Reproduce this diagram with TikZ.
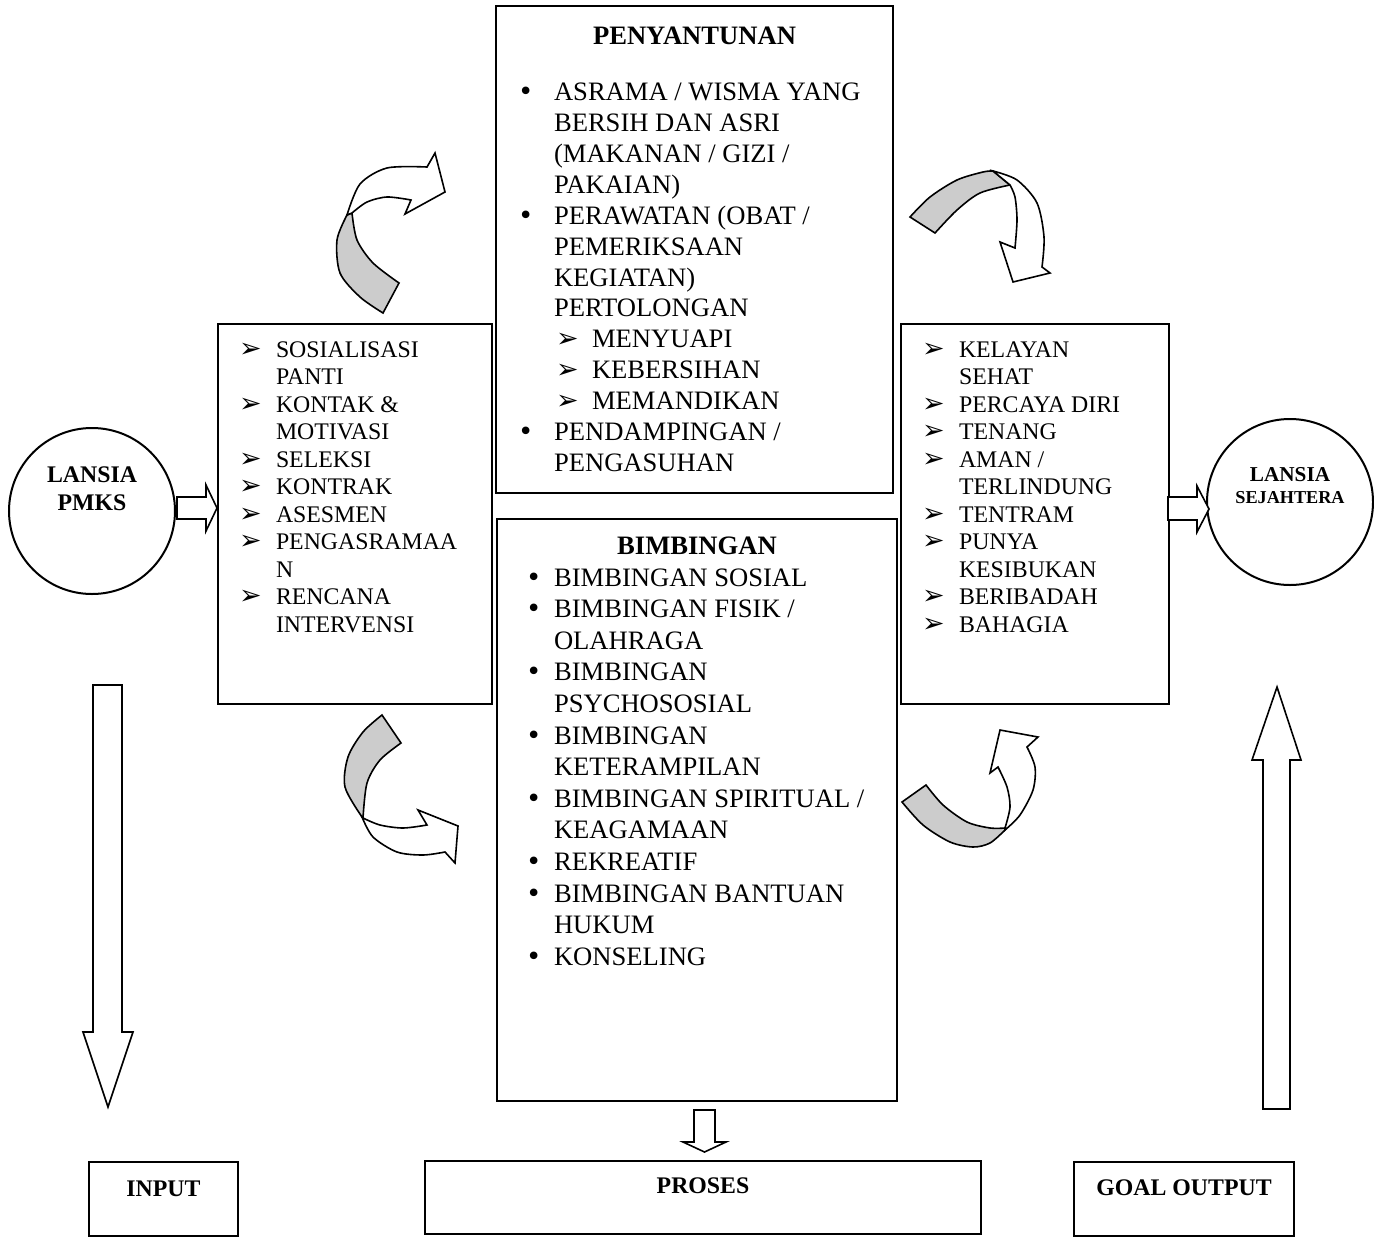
\documentclass[tikz,border=0pt]{standalone}
\usepackage{fontspec}
\setmainfont{Liberation Serif}
\newfontfamily\simbolfont{DejaVu Sans}

\newcommand{\panah}{{\simbolfont\fontsize{13.5}{10}\selectfont ➢}}
\newcommand{\titik}{{\simbolfont\fontsize{13}{10}\selectfont •}}
\newcommand{\poin}[4]{\leavevmode\rlap{\hspace*{#1}#3}\hspace*{#2}#4\par}
\newcommand{\lanjut}[2]{\leavevmode\hspace*{#1}#2\par}
\newcommand{\atas}[1]{\leavevmode\rule{0pt}{#1}}
\newcommand{\tandapanah}[1]{\poin{10.5pt}{29pt}{\panah}{#1}}
\newcommand{\sambung}[1]{\lanjut{29pt}{#1}}
\newcommand{\kecil}{\fontsize{11.9}{13.75}\selectfont}

\begin{document}
\begin{tikzpicture}[
                    x=0.5pt, y=-0.5pt,
                    kotak/.style={
                        draw,
                        line width=1pt,
                        inner sep=0pt,
                        anchor=north west
                    },
                    lingkar/.style={
                        draw,
                        circle,
                        line width=1pt,
                        minimum size=83pt,
                        inner sep=0pt
                    },
                    judul/.style={
                        font=\fontsize{11.9}{14}\selectfont\bfseries,
                        align=center,
                        inner sep=0pt
                    },
                    panahblok/.style={draw, line width=0.8pt, fill=white},
                    pita/.style={draw, line width=0.8pt, fill=black!20}
                ]
                    \useasboundingbox (0,0) rectangle (1374,1236);

                    % Lingkaran
                    \node[lingkar] (pmks) at (92,511) {};
                    \node[judul] (pmks-teks) at ([yshift=11pt]pmks.center) {LANSIA\\PMKS};
                    \node[lingkar] (sejahtera) at (1290,502) {};
                    \node[judul, font=\fontsize{10.6}{11}\selectfont\bfseries] (sejahtera-teks)
                        at ([yshift=8pt]sejahtera.center) {LANSIA\\{\fontsize{9.1}{11}\selectfont SEJAHTERA}};

                    % Kotak input
                    \node[kotak] (awal) at (217,323) {\parbox[b][190pt][t]{137pt}{\kecil
                        \atas{16.5pt}\tandapanah{SOSIALISASI}
                        \sambung{PANTI}
                        \tandapanah{KONTAK \&}
                        \sambung{MOTIVASI}
                        \tandapanah{SELEKSI}
                        \tandapanah{KONTRAK}
                        \tandapanah{ASESMEN}
                        \tandapanah{PENGASRAMAA}
                        \sambung{N}
                        \tandapanah{RENCANA}
                        \sambung{INTERVENSI}}};

                    % Kotak proses
                    \node[kotak] (penyantunan) at (495,5) {\parbox[b][243.5pt][t]{198.5pt}{\fontsize{13.3}{15.46}\selectfont
                        \centering\atas{19pt}\textbf{PENYANTUNAN}\par
                        \raggedright\vspace{12.8pt}
                        \poin{11pt}{29pt}{\titik}{ASRAMA / WISMA YANG}
                        \lanjut{29pt}{BERSIH DAN ASRI}
                        \lanjut{29pt}{(MAKANAN / GIZI /}
                        \lanjut{29pt}{PAKAIAN)}
                        \poin{11pt}{29pt}{\titik}{PERAWATAN (OBAT /}
                        \lanjut{29pt}{PEMERIKSAAN}
                        \lanjut{29pt}{KEGIATAN)}
                        \lanjut{29pt}{PERTOLONGAN}
                        \poin{30pt}{48pt}{\panah}{MENYUAPI}
                        \poin{30pt}{48pt}{\panah}{KEBERSIHAN}
                        \poin{30pt}{48pt}{\panah}{MEMANDIKAN}
                        \poin{11pt}{29pt}{\titik}{PENDAMPINGAN /}
                        \lanjut{29pt}{PENGASUHAN}}};
                    \node[kotak] (bimbingan) at (496,518) {\parbox[b][291pt][t]{200pt}{\fontsize{13.3}{15.8}\selectfont
                        \centering\atas{17.75pt}\textbf{BIMBINGAN}\par
                        \raggedright
                        \poin{14.5pt}{28.5pt}{\titik}{BIMBINGAN SOSIAL}
                        \poin{14.5pt}{28.5pt}{\titik}{BIMBINGAN FISIK /}
                        \lanjut{28.5pt}{OLAHRAGA}
                        \poin{14.5pt}{28.5pt}{\titik}{BIMBINGAN}
                        \lanjut{28.5pt}{PSYCHOSOSIAL}
                        \poin{14.5pt}{28.5pt}{\titik}{BIMBINGAN}
                        \lanjut{28.5pt}{KETERAMPILAN}
                        \poin{14.5pt}{28.5pt}{\titik}{BIMBINGAN SPIRITUAL /}
                        \lanjut{28.5pt}{KEAGAMAAN}
                        \poin{14.5pt}{28.5pt}{\titik}{REKREATIF}
                        \poin{14.5pt}{28.5pt}{\titik}{BIMBINGAN BANTUAN}
                        \lanjut{28.5pt}{HUKUM}
                        \poin{14.5pt}{28.5pt}{\titik}{KONSELING}}};

                    % Kotak hasil
                    \node[kotak] (hasil) at (900,323) {\parbox[b][190pt][t]{134pt}{\kecil
                        \atas{16.5pt}\tandapanah{KELAYAN}
                        \sambung{SEHAT}
                        \tandapanah{PERCAYA DIRI}
                        \tandapanah{TENANG}
                        \tandapanah{AMAN /}
                        \sambung{TERLINDUNG}
                        \tandapanah{TENTRAM}
                        \tandapanah{PUNYA}
                        \sambung{KESIBUKAN}
                        \tandapanah{BERIBADAH}
                        \tandapanah{BAHAGIA}}};

                    % Kotak bawah
                    \node[kotak] (input) at (88,1161) {\parbox[b][37pt][t]{74.5pt}{\centering\kecil
                        \atas{17pt}\textbf{INPUT}}};
                    \node[kotak] (proses) at (424,1160) {\parbox[b][36.5pt][t]{278pt}{\centering\kecil
                        \atas{16pt}\textbf{PROSES}}};
                    \node[kotak] (goal) at (1073,1161) {\parbox[b][37pt][t]{110pt}{\centering\kecil
                        \atas{16.5pt}\textbf{GOAL OUTPUT}}};

                    % Panah lurus
                    \draw[panahblok] (177,497) -- (206,497) -- (206,485) -- (217,508)
                        -- (206,531) -- (206,519) -- (177,519) -- cycle;
                    \draw[panahblok] (1168,497) -- (1197,497) -- (1197,486) -- (1209,509)
                        -- (1197,532) -- (1197,520) -- (1168,520) -- cycle;
                    \draw[panahblok] (93,685) -- (122,685) -- (122,1032) -- (133,1032)
                        -- (108,1107) -- (83,1032) -- (93,1032) -- cycle;
                    \draw[panahblok] (1263,1109) -- (1263,760) -- (1252,760) -- (1277,687)
                        -- (1301,760) -- (1290,760) -- (1290,1109) -- cycle;
                    \draw[panahblok] (694,1110) -- (715,1110) -- (715,1142) -- (726,1142)
                        -- (704.5,1152) -- (683,1142) -- (694,1142) -- cycle;

                    % Panah lengkung
                    \draw[pita] plot[smooth] coordinates {(383,313) (360,297) (340,273) (337,240) (347,215)}
                        -- plot[smooth] coordinates {(352,213) (357,240) (373,263) (399,283)} -- cycle;
                    \draw[panahblok] plot[smooth] coordinates {(347,215) (360,184) (387,168) (427,167)}
                        -- (435,153) -- (445,192) -- (405,214)
                        -- plot[smooth] coordinates {(411,200) (387,197) (367,202) (352,213)} -- cycle;

                    \draw[pita] plot[smooth] coordinates {(910,217) (930,197) (957,180) (983,172) (993,171)}
                        -- plot[smooth] coordinates {(1010,185) (980,193) (957,210) (935,233)} -- cycle;
                    \draw[panahblok] plot[smooth] coordinates {(993,171) (1017,180) (1037,203) (1044,237) (1042,267)}
                        -- (1050,273) -- (1013,282) -- (1000,242)
                        -- plot[smooth] coordinates {(1015,248) (1017,220) (1015,197) (1010,185)} -- cycle;

                    \draw[pita] plot[smooth] coordinates {(382,715) (363,732) (348,757) (345,787) (362,817)}
                        -- plot[smooth] coordinates {(363,818) (367,783) (380,760) (401,743)} -- cycle;
                    \draw[panahblok] plot[smooth] coordinates {(362,817) (373,837) (397,852) (423,855) (445,852)}
                        -- (455,863) -- (458,826) -- (418,810)
                        -- plot[smooth] coordinates {(427,825) (403,828) (380,825) (363,818)} -- cycle;

                    \draw[pita] plot[smooth] coordinates {(902,802) (923,825) (950,842) (973,847) (990,843) (1005,830)}
                        -- plot[smooth] coordinates {(1005,828) (990,828) (967,822) (943,805) (926,785)} -- cycle;
                    \draw[panahblok] plot[smooth] coordinates {(1005,830) (1020,815) (1033,790) (1035,767) (1027,747)}
                        -- (1038,737) -- (1000,730) -- (990,773)
                        -- plot[smooth] coordinates {(998,767) (1007,787) (1010,807) (1005,828)} -- cycle;
                \end{tikzpicture}
\end{document}
